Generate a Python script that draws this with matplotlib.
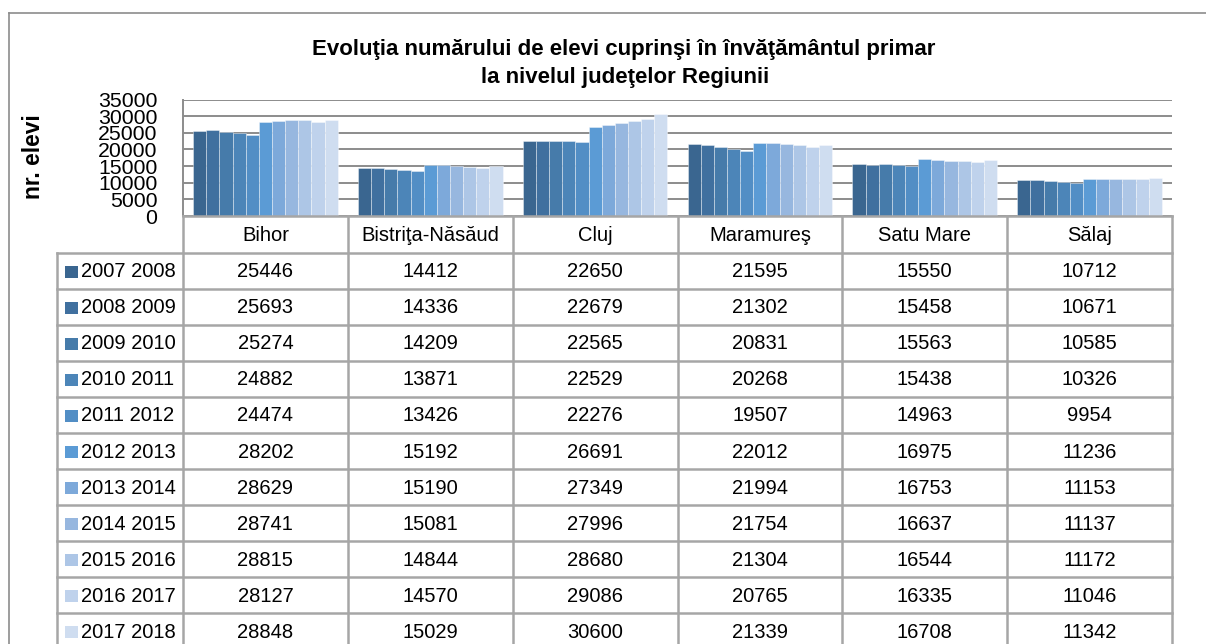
import matplotlib
matplotlib.use("Agg")
import matplotlib.pyplot as plt
from matplotlib.lines import Line2D
from matplotlib.patches import Rectangle
import numpy as np

plt.rcParams['font.family'] = ['Liberation Sans', 'DejaVu Sans']

categories = ["Bihor", "Bistriţa-Năsăud", "Cluj", "Maramureş", "Satu Mare", "Sălaj"]
series_names = ["2007 2008", "2008 2009", "2009 2010", "2010 2011", "2011 2012",
                "2012 2013", "2013 2014", "2014 2015", "2015 2016", "2016 2017", "2017 2018"]
v2007 = [25446, 14412, 22650, 21595, 15550, 10712]
v2008 = [25693, 14336, 22679, 21302, 15458, 10671]
v2009 = [25274, 14209, 22565, 20831, 15563, 10585]
v2010 = [24882, 13871, 22529, 20268, 15438, 10326]
v2011 = [24474, 13426, 22276, 19507, 14963, 9954]
v2012 = [28202, 15192, 26691, 22012, 16975, 11236]
v2013 = [28629, 15190, 27349, 21994, 16753, 11153]
v2014 = [28741, 15081, 27996, 21754, 16637, 11137]
v2015 = [28815, 14844, 28680, 21304, 16544, 11172]
v2016 = [28127, 14570, 29086, 20765, 16335, 11046]
v2017 = [28848, 15029, 30600, 21339, 16708, 11342]
series_values = [v2007, v2008, v2009, v2010, v2011, v2012, v2013, v2014, v2015, v2016, v2017]
yticks = [0, 5000, 10000, 15000, 20000, 25000, 30000, 35000]

colors = ["#3A6690", "#40709F", "#467BAA", "#4C85B8", "#528EC5", "#5B9BD5",
          "#7DA9DA", "#97B7DF", "#ADC6E6", "#BFD2EC", "#CFDDF0"]

W, H = 1206, 644
fig = plt.figure(figsize=(W / 100, H / 100), dpi=100)

def fx(px):
    return px / W

def fy(py):
    return 1 - py / H

ax_left, ax_right, ax_top, ax_bottom = 183, 1172, 99.5, 216
ax = fig.add_axes([fx(ax_left), fy(ax_bottom), fx(ax_right - ax_left), (ax_bottom - ax_top) / H])

n_series = len(series_values)
group_w = 0.877
bw = group_w / n_series
x = np.arange(len(categories))
for k, (vals, col) in enumerate(zip(series_values, colors)):
    off = -group_w / 2 + bw * (k + 0.5)
    ax.bar(x + off, vals, width=bw, color=col, edgecolor=(1, 1, 1, 0.45), linewidth=0.6, zorder=3)

ax.set_xlim(-0.5, len(categories) - 0.5)
ax.set_ylim(0, 35000)
ax.set_yticks(yticks)
ax.set_yticklabels([str(t) for t in yticks], fontsize=15.3)
ax.tick_params(axis='y', length=0, pad=18.5)
ax.set_xticks([])
ax.yaxis.grid(True, color="#8C8C8C", linewidth=1.4, zorder=0)
ax.set_axisbelow(True)
for s in ["top", "right", "bottom"]:
    ax.spines[s].set_visible(False)
ax.spines["left"].set_color("#8C8C8C")
ax.spines["left"].set_linewidth(1.4)

# Title
fig.text(fx(624), fy(49), "Evoluţia numărului de elevi cuprinşi în învăţământul primar",
         ha="center", va="center", fontsize=16, fontweight="bold")
fig.text(fx(625), fy(77), "la nivelul judeţelor Regiunii",
         ha="center", va="center", fontsize=16, fontweight="bold")
fig.text(fx(33), fy(157), "nr. elevi", rotation=90, ha="center", va="center",
         fontsize=16.4, fontweight="bold")

# Outer frame
frame_col = "#8C8C8C"
fig.add_artist(Line2D([fx(9), fx(9)], [fy(13), fy(H + 5)], color=frame_col, linewidth=1.2))
fig.add_artist(Line2D([fx(9), fx(W + 5)], [fy(13), fy(13)], color=frame_col, linewidth=1.2))

# Data table
tcol = "#A6A6A6"
tlw = 1.8
cat_w = (ax_right - ax_left) / len(categories)
header_top = ax_bottom
row0 = 252.7
row_h = 36.06
legend_left = 57
n_rows = len(series_names)
table_bottom = row0 + row_h * n_rows
fs_table = 14.5

fig.add_artist(Line2D([fx(ax_left), fx(ax_right)], [fy(header_top), fy(header_top)], color=tcol, linewidth=tlw))
for r in range(n_rows + 1):
    yy = row0 + row_h * r
    fig.add_artist(Line2D([fx(legend_left), fx(ax_right)], [fy(yy), fy(yy)], color=tcol, linewidth=tlw))
fig.add_artist(Line2D([fx(legend_left), fx(legend_left)], [fy(row0), fy(table_bottom)], color=tcol, linewidth=tlw))
for c in range(len(categories) + 1):
    xx = ax_left + cat_w * c
    fig.add_artist(Line2D([fx(xx), fx(xx)], [fy(header_top), fy(table_bottom)], color=tcol, linewidth=tlw))

for c, name in enumerate(categories):
    xc = ax_left + cat_w * (c + 0.5)
    fig.text(fx(xc), fy(header_top + (row0 - header_top) / 2 + 1), name,
             ha="center", va="center", fontsize=fs_table)

for r, (name, vals, col) in enumerate(zip(series_names, series_values, colors)):
    yc = row0 + row_h * (r + 0.5) + 1
    fig.add_artist(Rectangle((fx(65), fy(yc + 6)), fx(13), 12 / H, facecolor=col, edgecolor="none"))
    fig.text(fx(81), fy(yc), name, ha="left", va="center", fontsize=fs_table)
    for c, v in enumerate(vals):
        xc = ax_left + cat_w * (c + 0.5)
        fig.text(fx(xc), fy(yc), str(v), ha="center", va="center", fontsize=fs_table)

fig.savefig("out.png", dpi=100)
